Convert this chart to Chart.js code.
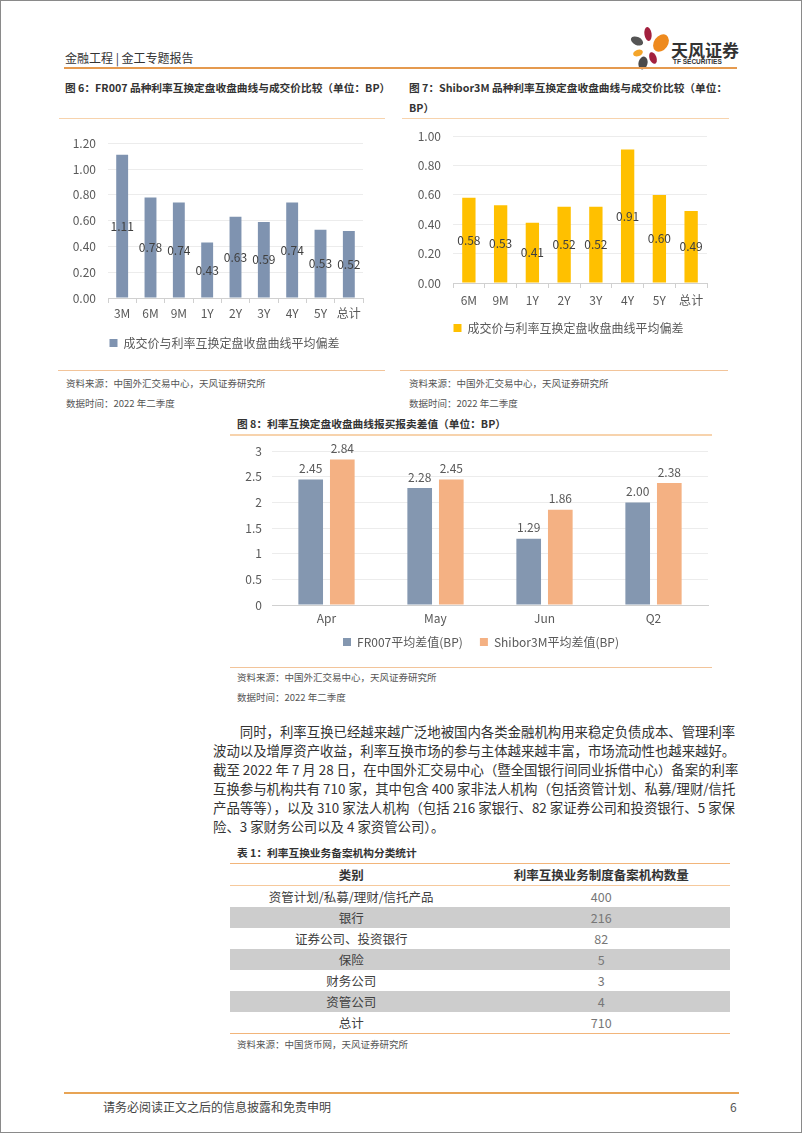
<!DOCTYPE html>
<html>
<head>
<meta charset="utf-8">
<script src="https://cdn.jsdelivr.net/npm/chart.js@4.4.0/dist/chart.umd.min.js"></script>
<style>
  html, body { margin: 0; padding: 0; background: #fff; }
  body { width: 802px; height: 1133px; position: relative; overflow: hidden;
         font-family: "Noto Sans CJK SC", "Noto Sans", sans-serif; color: #333; }
  .frame { position: absolute; left: 0; top: 0; width: 800px; height: 1131px; border: 1px solid #8a8a8a; }
  .abs { position: absolute; white-space: nowrap; }
  .hline { position: absolute; height: 0; }
  .title { font-size: 10.7px; font-weight: bold; color: #333; line-height: 20px; }
  .src { font-size: 9.5px; color: #555; }
  .para { position: absolute; left: 213px; top: 722px; width: 522px; font-size: 13.4px; line-height: 19px; color: #333; }
  .para div { text-align: justify; text-align-last: justify; white-space: nowrap; }
  .para div.last { text-align-last: left; }
  table { position: absolute; left: 230px; top: 863px; width: 500px; border-collapse: collapse; font-size: 12.5px; }
  th { font-weight: bold; height: 21px; padding: 0; border-top: 1px solid #f2b57a; border-bottom: 1px solid #f6c99c; color: #333; }
  td { height: 21px; padding: 0; text-align: center; }
  td.c { color: #404040; }
  td.v { color: #777; }
  tr.g td { background: #cdcdcd; }
  tr.end td { border-bottom: 1px solid #f2b57a; }
</style>
</head>
<body>
<div class="frame"></div>

<!-- header -->
<div class="abs" style="left:65px;top:49px;font-size:12px;color:#333;">金融工程 | 金工专题报告</div>
<svg class="abs" style="left:626px;top:24px;" width="46" height="48" viewBox="626 24 46 48">
  <ellipse cx="648" cy="34" rx="3.6" ry="7" fill="#a3203e" transform="rotate(-8 648 34)"/>
  <ellipse cx="661" cy="43" rx="7" ry="9.5" fill="#ee8a1e" transform="rotate(35 661 43)"/>
  <ellipse cx="637" cy="41" rx="6.5" ry="4" fill="#555" transform="rotate(25 637 41)"/>
  <ellipse cx="638" cy="53" rx="5" ry="3.2" fill="#f4a52a" transform="rotate(-20 638 53)"/>
  <ellipse cx="653" cy="58" rx="3.5" ry="6" fill="#a3203e" transform="rotate(-20 653 58)"/>
  <ellipse cx="643" cy="63" rx="4.5" ry="6.5" fill="#4a4a4a" transform="rotate(15 643 63)"/>
</svg>
<div class="abs" style="left:671px;top:37px;font-size:17px;font-weight:bold;color:#333;">天风证券</div>
<div class="abs" style="left:673px;top:58px;font-size:6.5px;font-weight:bold;color:#333;font-family:'Liberation Sans',sans-serif;">TF SECURITIES</div>
<div class="hline" style="left:64px;top:67px;width:673px;border-top:2px solid #e59a4f;"></div>

<!-- figure titles -->
<div class="abs title" style="left:65px;top:78px;">图 6：FR007 品种利率互换定盘收盘曲线与成交价比较（单位：BP）</div>
<div class="abs title" style="left:409px;top:78px;">图 7：Shibor3M 品种利率互换定盘收盘曲线与成交价比较（单位：<br>BP）</div>
<div class="hline" style="left:59px;top:118px;width:326px;border-top:1px solid #f7d3ad;"></div>
<div class="hline" style="left:402px;top:118px;width:327px;border-top:1px solid #f7d3ad;"></div>

<div class="abs" style="left:60px;top:124px;width:329px;height:235px;"><canvas id="c1"></canvas></div>
<div class="abs" style="left:405px;top:117px;width:327px;height:227px;"><canvas id="c2"></canvas></div>

<div class="hline" style="left:58px;top:370px;width:327px;border-top:1px solid #f2c49a;"></div>
<div class="hline" style="left:400px;top:370px;width:328px;border-top:1px solid #f2c49a;"></div>
<div class="abs src" style="left:66px;top:376px;">资料来源：中国外汇交易中心，天风证券研究所</div>
<div class="abs src" style="left:66px;top:396px;">数据时间：2022 年二季度</div>
<div class="abs src" style="left:409px;top:376px;">资料来源：中国外汇交易中心，天风证券研究所</div>
<div class="abs src" style="left:409px;top:396px;">数据时间：2022 年二季度</div>

<!-- figure 8 -->
<div class="abs title" style="left:237px;top:414px;">图 8：利率互换定盘收盘曲线报买报卖差值（单位：BP）</div>
<div class="hline" style="left:230px;top:434px;width:482px;border-top:2px solid #f7d3ad;"></div>
<div class="abs" style="left:230px;top:434px;width:495px;height:224px;"><canvas id="c3"></canvas></div>
<div class="hline" style="left:230px;top:667px;width:482px;border-top:1px solid #f2c49a;"></div>
<div class="abs src" style="left:237px;top:670px;">资料来源：中国外汇交易中心，天风证券研究所</div>
<div class="abs src" style="left:237px;top:690px;">数据时间：2022 年二季度</div>

<!-- paragraph -->
<div class="para">
  <div><span style="display:inline-block;width:2em;"></span>同时，利率互换已经越来越广泛地被国内各类金融机构用来稳定负债成本、管理利率</div>
  <div>波动以及增厚资产收益，利率互换市场的参与主体越来越丰富，市场流动性也越来越好。</div>
  <div>截至 2022 年 7 月 28 日，在中国外汇交易中心（暨全国银行间同业拆借中心）备案的利率</div>
  <div>互换参与机构共有 710 家，其中包含 400 家非法人机构（包括资管计划、私募/理财/信托</div>
  <div>产品等等），以及 310 家法人机构（包括 216 家银行、82 家证券公司和投资银行、5 家保</div>
  <div class="last">险、3 家财务公司以及 4 家资管公司）。</div>
</div>

<!-- table -->
<div class="abs title" style="left:237px;top:843px;">表 1：利率互换业务备案机构分类统计</div>
<table id="tbl"></table>
<div class="abs src" style="left:237px;top:1037px;">资料来源：中国货币网，天风证券研究所</div>

<!-- footer -->
<div class="hline" style="left:64px;top:1092px;width:675px;border-top:2px solid #e8a455;"></div>
<div class="abs" style="left:103px;top:1098px;font-size:12px;color:#444;">请务必阅读正文之后的信息披露和免责申明</div>
<div class="abs" style="left:730px;top:1098px;font-size:12px;color:#555;">6</div>

<script>
// figure 6
const tenors6 = ["3M", "6M", "9M", "1Y", "2Y", "3Y", "4Y", "5Y", "总计"];
const dev6 = [1.11, 0.78, 0.74, 0.43, 0.63, 0.59, 0.74, 0.53, 0.52];
// figure 7
const tenors7 = ["6M", "9M", "1Y", "2Y", "3Y", "4Y", "5Y", "总计"];
const dev7 = [0.58, 0.53, 0.41, 0.52, 0.52, 0.91, 0.60, 0.49];
// figure 8
const months8 = ["Apr", "May", "Jun", "Q2"];
const fr007Spread = [2.45, 2.28, 1.29, 2.00];
const shiborSpread = [2.84, 2.45, 1.86, 2.38];
// table 1
const tblCats = ["资管计划/私募/理财/信托产品", "银行", "证券公司、投资银行", "保险", "财务公司", "资管公司", "总计"];
const tblCounts = [400, 216, 82, 5, 3, 4, 710];

const FONT = "'Noto Sans CJK SC', 'Noto Sans', sans-serif";

// value labels drawn on bars
const valueLabels = {
  id: "valueLabels",
  afterDatasetsDraw(chart, args, opts) {
    const ctx = chart.ctx;
    ctx.save();
    ctx.font = opts.size + "px " + FONT;
    ctx.fillStyle = opts.color;
    ctx.textAlign = "center";
    chart.data.datasets.forEach((ds, i) => {
      chart.getDatasetMeta(i).data.forEach((bar, j) => {
        const txt = ds.data[j].toFixed(2);
        if (opts.pos === "center") {
          ctx.textBaseline = "middle";
          ctx.fillText(txt, bar.x, (bar.y + bar.base) / 2);
        } else {
          ctx.textBaseline = "bottom";
          ctx.fillText(txt, bar.x, bar.y - 5);
        }
      });
    });
    ctx.restore();
  }
};

// empty right-hand axis, only used to nudge the centred legend to the right
function spacer(w) {
  return {
    position: "right", display: true,
    grid: { display: false }, border: { display: false }, ticks: { display: false },
    afterFit(s) { s.width = w; }
  };
}

function smallBar(id, labels, data, color, ymax, xPad, rightGap) {
  return new Chart(document.getElementById(id), {
    type: "bar",
    data: {
      labels: labels,
      datasets: [{
        label: "成交价与利率互换定盘收盘曲线平均偏差",
        data: data,
        backgroundColor: color,
        categoryPercentage: 1,
        barPercentage: 0.42
      }]
    },
    options: {
      responsive: true,
      maintainAspectRatio: false,
      animation: false,
      layout: { padding: 0 },
      plugins: {
        legend: {
          position: "bottom",
          labels: { boxWidth: 8, boxHeight: 8, color: "#595959", padding: 14,
                    font: { size: 12, family: FONT } }
        },
        tooltip: { enabled: false },
        valueLabels: { pos: "center", size: 12, color: "#404040" }
      },
      scales: {
        x: {
          grid: { display: true, drawOnChartArea: false, drawTicks: true, tickLength: 5, color: "#d0d0d0" },
          border: { display: true, color: "#d0d0d0" },
          ticks: { color: "#595959", padding: xPad, maxRotation: 0, autoSkip: false,
                   font: { size: 12, family: FONT } },
          afterFit(s) { s.height = 25; }
        },
        y: {
          min: 0, max: ymax,
          ticks: { stepSize: 0.2, color: "#595959", padding: 12, font: { size: 12, family: FONT },
                   callback: v => Number(v).toFixed(2) },
          grid: { color: "#ececec", drawTicks: false },
          border: { display: false },
          afterFit(s) { s.width = 48; }
        },
        pad: spacer(rightGap)
      }
    },
    plugins: [valueLabels]
  });
}

smallBar("c1", tenors6, dev6, "#7f93b0", 1.2, 3, 26);
smallBar("c2", tenors7, dev7, "#ffc000", 1.0, 5, 25);

new Chart(document.getElementById("c3"), {
  type: "bar",
  data: {
    labels: months8,
    datasets: [
      { label: "FR007平均差值(BP)", data: fr007Spread, backgroundColor: "#8497b0",
        categoryPercentage: 0.58, barPercentage: 0.78 },
      { label: "Shibor3M平均差值(BP)", data: shiborSpread, backgroundColor: "#f4b183",
        categoryPercentage: 0.58, barPercentage: 0.78 }
    ]
  },
  options: {
    responsive: true,
    maintainAspectRatio: false,
    animation: false,
    layout: { padding: { top: 0, right: 7, left: 14, bottom: 0 } },
    plugins: {
      legend: {
        position: "bottom",
        labels: {
          boxWidth: 8, boxHeight: 8, color: "#595959", padding: 9,
          font: { size: 12, family: FONT },
          // a little extra room between the two legend entries
          generateLabels(chart) {
            const items = Chart.defaults.plugins.legend.labels.generateLabels(chart);
            items[0].text += "   ";
            return items;
          }
        }
      },
      tooltip: { enabled: false },
      valueLabels: { pos: "top", size: 12, color: "#595959" }
    },
    scales: {
      x: {
        grid: { display: false, drawTicks: false },
        border: { display: true, color: "#d0d0d0" },
        ticks: { color: "#595959", padding: 6, font: { size: 12, family: FONT } },
        afterFit(s) { s.height = 22; }
      },
      y: {
        min: 0, max: 3,
        ticks: { stepSize: 0.5, color: "#595959", padding: 10, font: { size: 12, family: FONT },
                 callback: v => String(v) },
        grid: { color: "#ececec", drawTicks: false },
        border: { display: false },
        afterFit(s) { s.width = 28; }
      },
      pad: spacer(10)
    }
  },
  plugins: [valueLabels]
});

// table
const tbl = document.getElementById("tbl");
let html = "<tr><th>类别</th><th>利率互换业务制度备案机构数量</th></tr>";
tblCats.forEach((c, i) => {
  const cls = (i % 2 === 1 ? "g" : "") + (i === tblCats.length - 1 ? " end" : "");
  html += '<tr class="' + cls + '"><td class="c">' + c + '</td><td class="v">' + tblCounts[i] + "</td></tr>";
});
tbl.innerHTML = html;
</script>
</body>
</html>
